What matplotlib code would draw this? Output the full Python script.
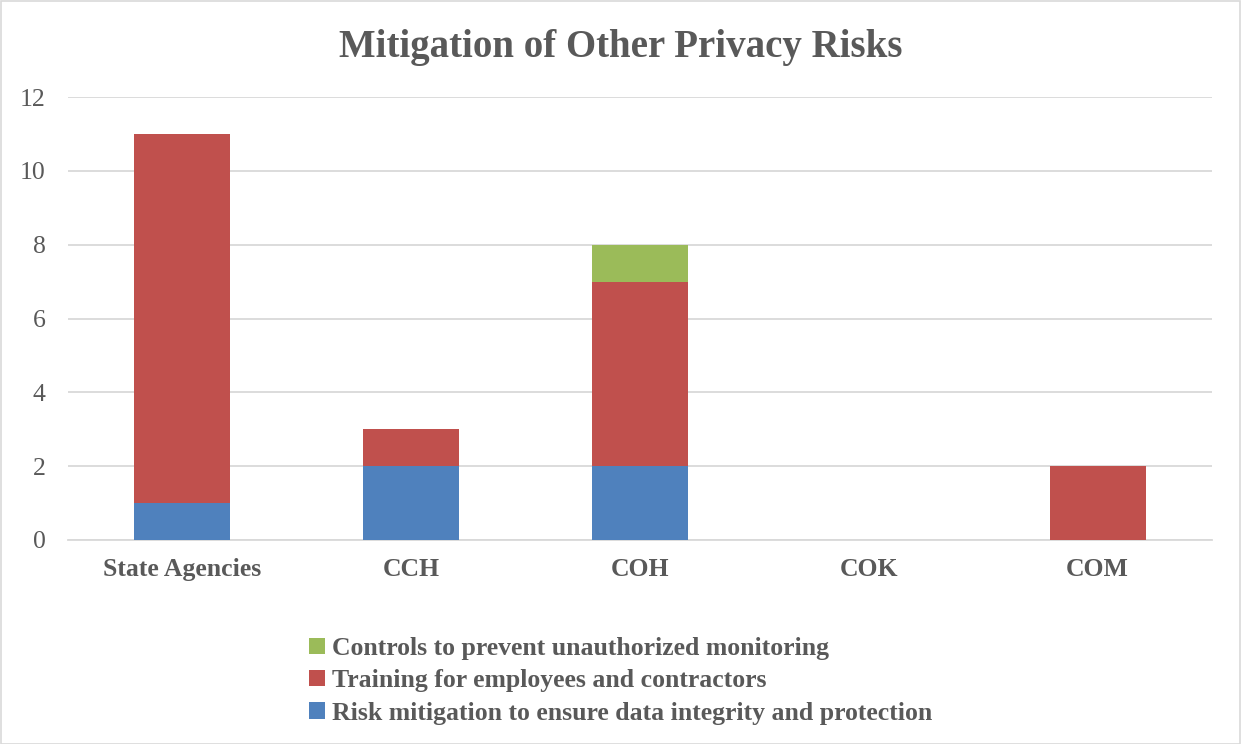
import matplotlib
matplotlib.use("Agg")
import matplotlib.pyplot as plt
from matplotlib.patches import Rectangle
import numpy as np

categories = ["State Agencies", "CCH", "COH", "COK", "COM"]
risk_mitigation = [1, 2, 2, 0, 0]
training = [10, 1, 5, 0, 2]
controls = [0, 0, 1, 0, 0]
series_names = ["Risk mitigation to ensure data integrity and protection",
                "Training for employees and contractors",
                "Controls to prevent unauthorized monitoring"]
colors = ["#4F81BD", "#C0504D", "#9BBB59"]
yticks = [0, 2, 4, 6, 8, 10, 12]

plt.rcParams['font.family'] = ['Liberation Serif', 'DejaVu Serif']
text_color = "#595959"

fig = plt.figure(figsize=(12.41, 7.44), dpi=100)
ax = fig.add_axes([68/1241, 1-540/744, (1212-68)/1241, (540-97)/744])

x = np.arange(len(categories))
w = 0.42
bottom = np.zeros(len(categories))
handles = []
for vals, name, c in zip([risk_mitigation, training, controls], series_names, colors):
    vals = np.array(vals, dtype=float)
    b = ax.bar(x, vals, w, bottom=bottom, color=c, label=name, zorder=3)
    handles.append(b)
    bottom += vals

ax.set_xlim(-0.5, len(categories) - 0.5)
ax.set_ylim(0, 12)
ax.set_yticks(yticks)
ax.set_yticklabels([str(t) for t in yticks], fontsize=18.5, color=text_color)
ax.set_xticks(x)
ax.set_xticklabels(categories, fontsize=18.5, fontweight='bold', color=text_color)
ax.tick_params(axis='both', length=0)
ax.tick_params(axis='y', pad=16)
ax.tick_params(axis='x', pad=13)
ax.yaxis.grid(True, color="#D9D9D9", linewidth=1.3, zorder=0)
for s in ['top', 'right', 'left']:
    ax.spines[s].set_visible(False)
ax.spines['bottom'].set_color("#D9D9D9")
ax.spines['bottom'].set_linewidth(1.3)

fig.text(0.5, 1-47/744, "Mitigation of Other Privacy Risks", ha='center', va='center',
         fontsize=28, fontweight='bold', color=text_color)

leg = fig.legend(handles[::-1], series_names[::-1], loc='upper left',
                 bbox_to_anchor=(286/1241, 1-614/744), frameon=False,
                 prop={'size': 18.5, 'weight': 'bold'}, handlelength=0.6, handleheight=0.6,
                 handletextpad=0.3, labelspacing=0.36)
for t in leg.get_texts():
    t.set_color(text_color)

fig.patches.append(Rectangle((0.5/1241, 0.5/744), 1-1.5/1241, 1-1.5/744, transform=fig.transFigure,
                             fill=False, edgecolor="#D9D9D9", linewidth=1.2))

fig.savefig("out.png", dpi=100)
